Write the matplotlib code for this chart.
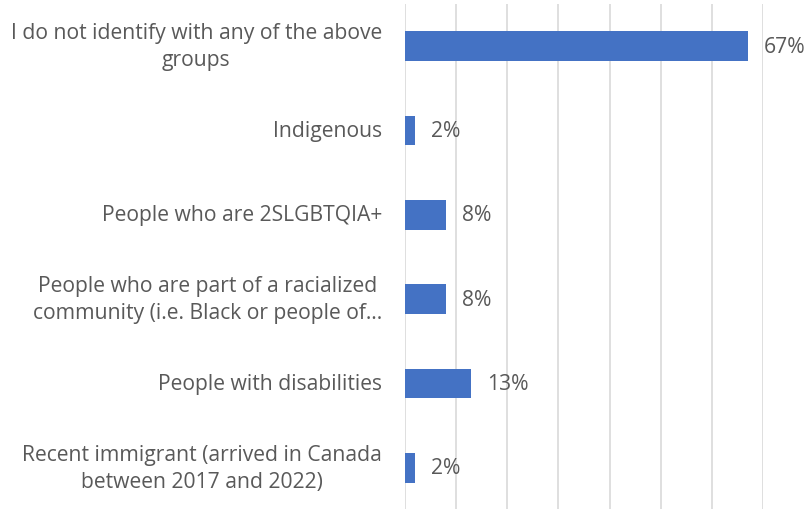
import matplotlib
matplotlib.use("Agg")
import matplotlib.pyplot as plt

categories = [
    "I do not identify with any of the above\ngroups",
    "Indigenous",
    "People who are 2SLGBTQIA+",
    "People who are part of a racialized\ncommunity (i.e. Black or people of…",
    "People with disabilities",
    "Recent immigrant (arrived in Canada\nbetween 2017 and 2022)",
]
values = [67, 2, 8, 8, 13, 2]
value_labels = ["67%", "2%", "8%", "8%", "13%", "2%"]
grid_ticks = [0, 10, 20, 30, 40, 50, 60, 70]

W, H = 809, 510
fig = plt.figure(figsize=(W / 100, H / 100), dpi=100)
ax = fig.add_axes([405 / W, 1 - 511 / H, (763 - 405) / W, (511 - 5) / H])

text_color = "#595959"
font = "Open Sans"
fs = 15.2

y = list(range(len(categories)))
ax.barh(y, values, height=0.355, color="#4472C4", zorder=3)
ax.set_ylim(len(categories) - 0.5, -0.5)
ax.set_xlim(0, 70)
ax.set_xticks(grid_ticks)
ax.xaxis.grid(True, color="#d9d9d9", linewidth=1.2, zorder=0)
ax.tick_params(axis="x", length=0, labelbottom=False)
ax.tick_params(axis="y", length=0, labelleft=False)
for s in ax.spines.values():
    s.set_visible(False)

for yi, lab in zip(y, categories):
    ax.annotate(lab, xy=(0, yi), xytext=(-23, 0), textcoords="offset pixels",
                ha="right", va="center", multialignment="center",
                fontsize=fs, color=text_color, family=font,
                linespacing=1.4, annotation_clip=False)

for yi, v, t in zip(y, values, value_labels):
    ax.annotate(t, xy=(v, yi), xytext=(16, 0), textcoords="offset pixels",
                ha="left", va="center", fontsize=fs, color=text_color,
                family=font, annotation_clip=False)

fig.savefig("out.png", dpi=100)
